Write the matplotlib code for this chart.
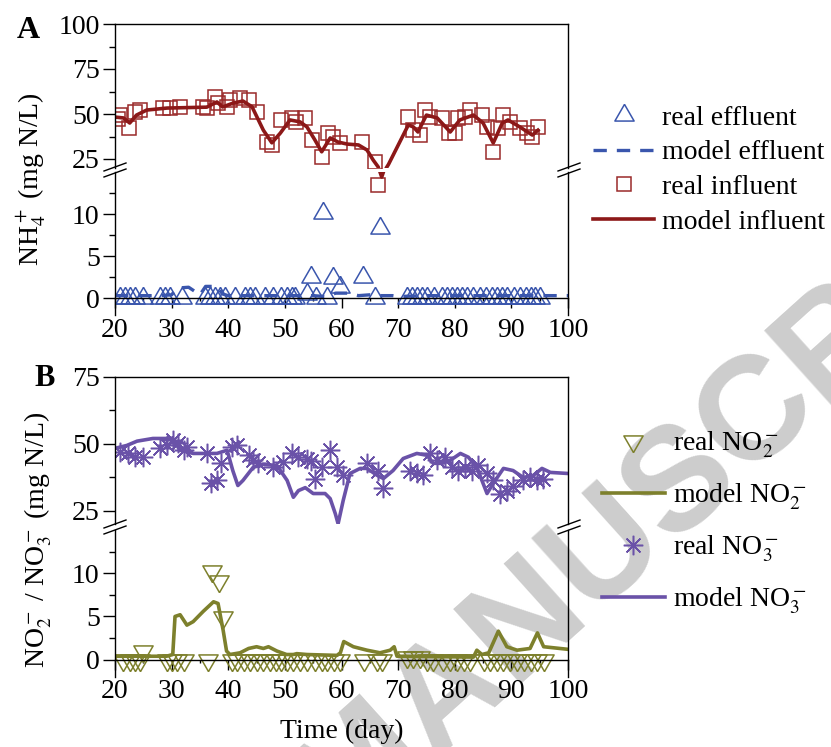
import numpy as np
import matplotlib
matplotlib.use('Agg')
import matplotlib.pyplot as plt
from matplotlib.lines import Line2D

plt.rcParams['font.family'] = ['Liberation Serif', 'DejaVu Serif']
plt.rcParams['mathtext.fontset'] = 'stix'

# ---- panel A data (NH4+) ----
infl_real_day = [20.5, 20.9, 22.5, 23.5, 24.4, 28.5, 29.7, 31.5, 35.6, 36.2, 37.7, 38.2, 39.8, 40.3, 42.0,
                 43.6, 45.0, 46.8, 47.7, 49.4, 51.2, 52.0, 53.6, 54.8, 56.5, 57.6, 58.5, 59.8, 63.6, 66.0,
                 66.5, 71.8, 72.7, 73.9, 74.8, 75.7, 77.8, 78.9, 80.0, 80.6, 81.8, 82.7, 84.8, 85.7, 86.8,
                 87.7, 88.6, 89.8, 91.5, 92.8, 93.7, 94.7]
infl_real_val = [47.0, 49.4, 42.2, 51.0, 52.2, 53.2, 53.2, 53.8, 53.8, 53.5, 59.5, 56.0, 53.8, 57.8, 58.9,
                 57.8, 51.0, 34.4, 32.8, 46.7, 47.8, 45.6, 47.8, 35.6, 26.0, 39.4, 37.2, 33.9, 34.4, 23.3,
                 13.5, 48.3, 41.0, 38.3, 52.2, 48.3, 47.8, 39.4, 39.4, 47.8, 48.3, 52.2, 49.4, 42.8, 28.9,
                 42.2, 49.4, 45.6, 42.2, 39.4, 37.2, 42.8]

infl_model_day = [20.0, 21.5, 22.6, 23.8, 25.6, 29.2, 36.2, 38.0, 39.0, 40.9, 42.6, 44.2, 46.2, 47.7, 49.2,
                  50.9, 52.7, 53.9, 55.3, 56.5, 58.0, 59.4, 61.0, 63.0, 64.5, 65.6, 66.5, 66.7, 67.1, 67.5,
                  67.9, 68.3, 71.8, 72.7, 73.5, 75.0, 76.9, 79.2, 80.9, 83.3, 85.0, 86.8, 88.4, 89.4, 91.5,
                  93.7, 94.7]
infl_model_val = [48.3, 47.8, 45.0, 49.4, 52.2, 53.3, 53.8, 56.7, 53.9, 56.1, 57.2, 54.0, 41.0, 34.0, 39.4,
                  46.7, 45.6, 42.8, 35.6, 29.0, 36.7, 34.4, 33.3, 32.8, 30.0, 24.4, 20.5, 15.2, 14.4, 15.2,
                  20.0, 22.0, 43.9, 42.8, 40.0, 49.4, 47.8, 40.0, 46.7, 49.4, 45.0, 33.9, 45.0, 46.7, 42.8,
                  38.3, 41.0]

eff_real_day = [20.9, 21.8, 22.7, 23.5, 25.0, 28.0, 28.8, 29.7, 31.8, 35.9, 36.8, 37.7, 38.6, 39.4, 41.2,
                43.0, 43.9, 44.7, 46.5, 47.9, 49.4, 50.3, 51.2, 51.8, 53.9, 54.7, 55.5, 56.8, 57.4, 58.5,
                59.8, 63.8, 66.0, 66.8, 71.5, 72.4, 73.3, 74.2, 75.1, 76.3, 77.7, 78.6, 79.5, 80.4, 81.3,
                82.1, 83.3, 84.5, 85.6, 86.5, 87.4, 88.3, 89.2, 90.4, 91.6, 92.5, 93.4, 94.2, 95.1]
eff_real_val = [0.0, 0.0, 0.0, 0.0, 0.0, 0.0, 0.0, 0.0, 0.0, 0.0, 0.0, 0.0, 0.0, 0.0, 0.0,
                0.0, 0.0, 0.0, 0.0, 0.0, 0.0, 0.0, 0.0, 0.0, 0.5, 2.5, 0.0, 10.1, 0.0, 2.4,
                1.3, 2.5, 0.0, 8.3, 0.0, 0.0, 0.0, 0.0, 0.0, 0.0, 0.0, 0.0, 0.0, 0.0, 0.0,
                0.0, 0.0, 0.0, 0.0, 0.0, 0.0, 0.0, 0.0, 0.0, 0.0, 0.0, 0.0, 0.0, 0.0]

eff_model_day = [20, 25, 28, 30, 31, 33, 35, 36, 38, 39, 40, 45, 50, 55, 57, 59, 61, 63, 65, 67, 69, 70,
                 75, 80, 85, 90, 95, 100]
eff_model_val = [0.3, 0.3, 0.3, 0.4, 1.2, 1.3, 0.4, 1.4, 1.4, 0.5, 0.3, 0.3, 0.3, 0.3, 0.2, 0.6, 0.6, 0.3,
                 0.4, 0.3, 0.3, 0.2, 0.3, 0.3, 0.3, 0.3, 0.3, 0.3]

# ---- panel B data (NO2- / NO3-) ----
no3_real_day = [20.9, 22.3, 23.5, 25.0, 28.0, 29.1, 30.3, 31.2, 32.1, 32.7, 36.2, 37.0, 38.0, 38.8, 40.6,
                41.5, 43.6, 44.4, 45.3, 47.9, 49.7, 51.2, 52.3, 53.9, 54.6, 55.3, 56.5, 58.0, 59.2, 60.3,
                64.5, 66.5, 67.4, 72.1, 73.3, 74.4, 75.7, 76.9, 78.3, 79.5, 80.6, 81.8, 83.0, 84.1, 85.7,
                86.8, 88.0, 89.2, 90.3, 92.1, 93.3, 94.6, 95.6]
no3_real_val = [46.8, 46.4, 45.0, 45.0, 48.3, 49.4, 51.3, 50.2, 47.6, 48.7, 46.4, 35.5, 36.5, 42.7, 48.7,
                49.4, 45.7, 43.8, 42.7, 41.2, 43.1, 46.4, 45.0, 44.5, 43.5, 37.0, 41.2, 47.6, 41.2, 38.2,
                42.7, 40.0, 33.3, 40.0, 38.9, 38.2, 46.4, 43.8, 45.0, 41.2, 40.0, 41.2, 40.0, 41.9, 38.9,
                36.3, 31.4, 32.5, 34.4, 36.3, 37.4, 36.3, 37.0]

no3_model_day = [20.0, 22.1, 23.9, 26.7, 29.2, 30.3, 31.5, 33.8, 38.0, 39.8, 40.8, 41.7, 42.6, 44.4, 46.2,
                 48.6, 50.4, 51.5, 52.4, 53.6, 55.0, 57.1, 58.0, 58.9, 59.4, 60.3, 61.5, 63.3, 64.5, 66.3,
                 67.4, 69.1, 70.9, 73.3, 75.1, 76.2, 77.8, 79.2, 81.0, 82.4, 83.9, 85.7, 86.8, 88.6, 90.3,
                 92.1, 93.9, 95.4, 96.9, 100.0]
no3_model_val = [48.3, 49.4, 51.0, 52.0, 52.0, 51.3, 47.6, 46.4, 46.4, 47.6, 40.0, 34.4, 36.3, 41.2, 42.3,
                 41.9, 36.3, 30.0, 32.5, 33.6, 31.4, 31.4, 29.5, 23.9, 20.1, 28.8, 38.9, 40.8, 40.8, 38.2,
                 37.0, 40.0, 44.5, 46.4, 45.7, 42.7, 42.7, 43.8, 46.4, 45.0, 41.2, 31.4, 35.2, 40.8, 40.0,
                 37.4, 38.2, 40.8, 39.3, 38.9]

no2_real_day = [21.5, 22.6, 23.5, 24.4, 25.0, 29.1, 30.0, 30.9, 32.1, 36.5, 37.2, 38.4, 39.0, 40.6, 41.5,
                42.7, 43.8, 45.0, 46.2, 47.4, 48.5, 49.4, 50.3, 51.5, 52.7, 53.9, 55.3, 56.5, 57.4, 58.6,
                59.8, 63.9, 66.2, 67.2, 71.5, 72.7, 73.9, 75.1, 76.2, 78.0, 79.2, 80.4, 81.6, 82.7, 85.1,
                86.3, 87.4, 88.6, 89.8, 91.0, 92.2, 93.4, 94.5, 95.7]
no2_real_val = [0.0, 0.0, 0.0, 0.0, 1.0, 0.0, 0.0, 0.0, 0.0, 0.0, 10.3, 9.1, 4.9, 0.0, 0.0,
                0.0, 0.0, 0.0, 0.0, 0.0, 0.0, 0.0, 0.0, 0.0, 0.0, 0.0, 0.0, 0.0, 0.0, 0.0,
                0.0, 0.0, 0.0, 0.0, 0.3, 0.3, 0.3, 0.0, 0.0, 0.0, 0.0, 0.0, 0.0, 0.0, 0.0,
                0.0, 0.0, 0.0, 0.0, 0.0, 0.0, 0.0, 0.0, 0.0]

no2_model_day = [20.0, 29.1, 30.2, 30.6, 31.5, 32.7, 33.8, 35.6, 37.4, 38.2, 39.1, 39.7, 40.3, 42.1, 43.6,
                 45.0, 46.2, 47.1, 48.6, 50.3, 51.5, 52.1, 53.9, 59.2, 59.8, 60.4, 62.1, 64.5, 66.8, 68.6,
                 69.3, 69.8, 83.3, 83.9, 84.8, 86.0, 87.7, 89.2, 91.0, 93.3, 94.6, 95.7, 100.0]
no2_model_val = [0.4, 0.4, 0.6, 5.0, 5.2, 4.0, 4.4, 5.6, 6.7, 6.5, 3.4, 1.0, 0.6, 0.8, 1.3,
                 1.5, 1.3, 1.5, 1.0, 0.6, 0.6, 0.7, 0.6, 0.5, 0.8, 2.1, 1.5, 1.1, 0.8, 1.1,
                 1.5, 0.4, 0.3, 1.1, 0.6, 0.8, 3.3, 1.5, 1.1, 1.3, 3.1, 1.5, 1.2]

x_ticks = [20, 30, 40, 50, 60, 70, 80, 90, 100]

# colours
c_infl = '#8c1818'
c_eff = '#3a56ad'
c_no2 = '#7d802c'
c_no3 = '#6a52a8'

# triangles centred on their centroid, like the original software does
tri_up = [(0, 1), (-0.866, -0.5), (0.866, -0.5), (0, 1)]
tri_down = [(0, -1), (-0.866, 0.5), (0.866, 0.5), (0, -1)]
asterisk = (8, 2, 0)

W, H = 831, 747
FS = 20


def fx(px):
    return px / W


def fy(py):
    return 1 - py / H


def style_axes(ax_up, ax_lo, up_lim, up_major, up_minor):
    for ax in (ax_up, ax_lo):
        ax.patch.set_alpha(0)
        ax.set_xlim(20, 100)
        for s in ax.spines.values():
            s.set_linewidth(1.0)
        ax.tick_params(axis='y', which='major', direction='out', length=8.5, width=1,
                       labelsize=FS, pad=2.5, right=False)
        ax.tick_params(axis='y', which='minor', direction='out', length=4.5, width=1, right=False)
    ax_up.set_ylim(*up_lim)
    ax_up.set_yticks(up_major)
    ax_up.set_yticks(up_minor, minor=True)
    ax_up.spines['bottom'].set_visible(False)
    ax_up.tick_params(axis='x', which='both', bottom=False, top=False, labelbottom=False)

    ax_lo.set_ylim(-2, 15)
    ax_lo.set_yticks([0, 5, 10])
    ax_lo.set_yticks([2.5, 7.5, 12.5], minor=True)
    ax_lo.spines['top'].set_visible(False)
    ax_lo.spines['bottom'].set_position(('data', 0))
    ax_lo.set_xticks(x_ticks)
    ax_lo.set_xticks(np.arange(25, 100, 10), minor=True)
    ax_lo.tick_params(axis='x', which='major', direction='out', length=7, width=1,
                      labelsize=FS, pad=7, top=False)
    ax_lo.tick_params(axis='x', which='minor', direction='out', length=2.5, width=1, top=False)


def break_mark(x, y):
    for dy in (-3, 3):
        fig.add_artist(Line2D([fx(x - 11), fx(x + 11)], [fy(y + dy + 4), fy(y + dy - 4)],
                              color='k', lw=1.0, transform=fig.transFigure))


fig = plt.figure(figsize=(W / 100, H / 100), dpi=100)

# watermark behind everything
fig.text(fx(367), fy(772), 'ACCEPTED MANUSCRIPT', family='Liberation Sans', weight='bold',
         size=106, color='#cdcdcd', rotation=42, rotation_mode='anchor',
         ha='center', va='center', zorder=-5)

left, right = 115, 568
wid = (right - left) / W

# ---- panel A ----
axA_up = fig.add_axes([fx(left), fy(168), wid, (168 - 24) / H])
axA_lo = fig.add_axes([fx(left), fy(315), wid, (315 - 172) / H])
style_axes(axA_up, axA_lo, (20, 100), [25, 50, 75, 100], [37.5, 62.5, 87.5])

for ax in (axA_up, axA_lo):
    ax.plot(eff_real_day, eff_real_val, ls='none', marker=tri_up, ms=16, mfc='none',
            mec=c_eff, mew=1.1)
    ax.plot(eff_model_day, eff_model_val, color=c_eff, lw=2.4, ls=(0, (4, 3)))
    ax.plot(infl_real_day, infl_real_val, ls='none', marker='s', ms=10, mfc='none',
            mec='#9a2a2a', mew=1.1)
    ax.plot(infl_model_day, infl_model_val, color=c_infl, lw=2.6)

# ---- panel B ----
axB_up = fig.add_axes([fx(left), fy(524), wid, (524 - 377) / H])
axB_lo = fig.add_axes([fx(left), fy(677), wid, (677 - 530) / H])
style_axes(axB_up, axB_lo, (20, 75), [25, 50, 75], [37.5, 62.5])

for ax in (axB_up, axB_lo):
    ax.plot(no2_real_day, no2_real_val, ls='none', marker=tri_down, ms=16, mfc='none',
            mec=c_no2, mew=1.1)
    ax.plot(no2_model_day, no2_model_val, color=c_no2, lw=2.6)
    ax.plot(no3_real_day, no3_real_val, ls='none', marker=asterisk, ms=14, mec=c_no3,
            mew=1.1)
    ax.plot(no3_model_day, no3_model_val, color=c_no3, lw=2.6)

# break marks on both spines
for yb in (170, 527):
    break_mark(115, yb)
    break_mark(569, yb)

# legends
hA = [Line2D([], [], ls='none', marker=tri_up, ms=16, mfc='none', mec=c_eff, mew=1.1),
      Line2D([], [], color=c_eff, lw=2.4, ls=(0, (4, 3))),
      Line2D([], [], ls='none', marker='s', ms=10, mfc='none', mec='#9a2a2a', mew=1.1),
      Line2D([], [], color=c_infl, lw=2.6)]
fig.legend(hA, ['real effluent', 'model effluent', 'real influent', 'model influent'],
           loc='center left', bbox_to_anchor=(fx(593), fy(170)), frameon=False, fontsize=FS,
           borderpad=0, borderaxespad=0, handlelength=2.2, handletextpad=0.3, labelspacing=0.33)

hB = [Line2D([], [], ls='none', marker=tri_down, ms=16, mfc='none', mec=c_no2, mew=1.1),
      Line2D([], [], color=c_no2, lw=2.6),
      Line2D([], [], ls='none', marker=asterisk, ms=14, mec=c_no3, mew=1.1),
      Line2D([], [], color=c_no3, lw=2.6)]
fig.legend(hB, ['real NO$_2^-$', 'model NO$_2^-$', 'real NO$_3^-$', 'model NO$_3^-$'],
           loc='center left', bbox_to_anchor=(fx(602), fy(523)), frameon=False, fontsize=FS,
           borderpad=0, borderaxespad=0, handlelength=2.25, handletextpad=0.3, labelspacing=0.78)

# panel letters and axis titles
fig.text(fx(28), fy(31), 'A', weight='bold', size=23, ha='center', va='center')
fig.text(fx(45), fy(378), 'B', weight='bold', size=22, ha='center', va='center')
fig.text(fx(31), fy(179), 'NH$_4^+$ (mg N/L)', rotation=90, ha='center', va='center', size=FS)
fig.text(fx(38), fy(540), 'NO$_2^-$ / NO$_3^-$ (mg N/L)', rotation=90, ha='center', va='center',
         size=FS)
fig.text(fx(342), fy(731), 'Time (day)', ha='center', va='center', size=FS)

fig.savefig('out.png', dpi=100)
